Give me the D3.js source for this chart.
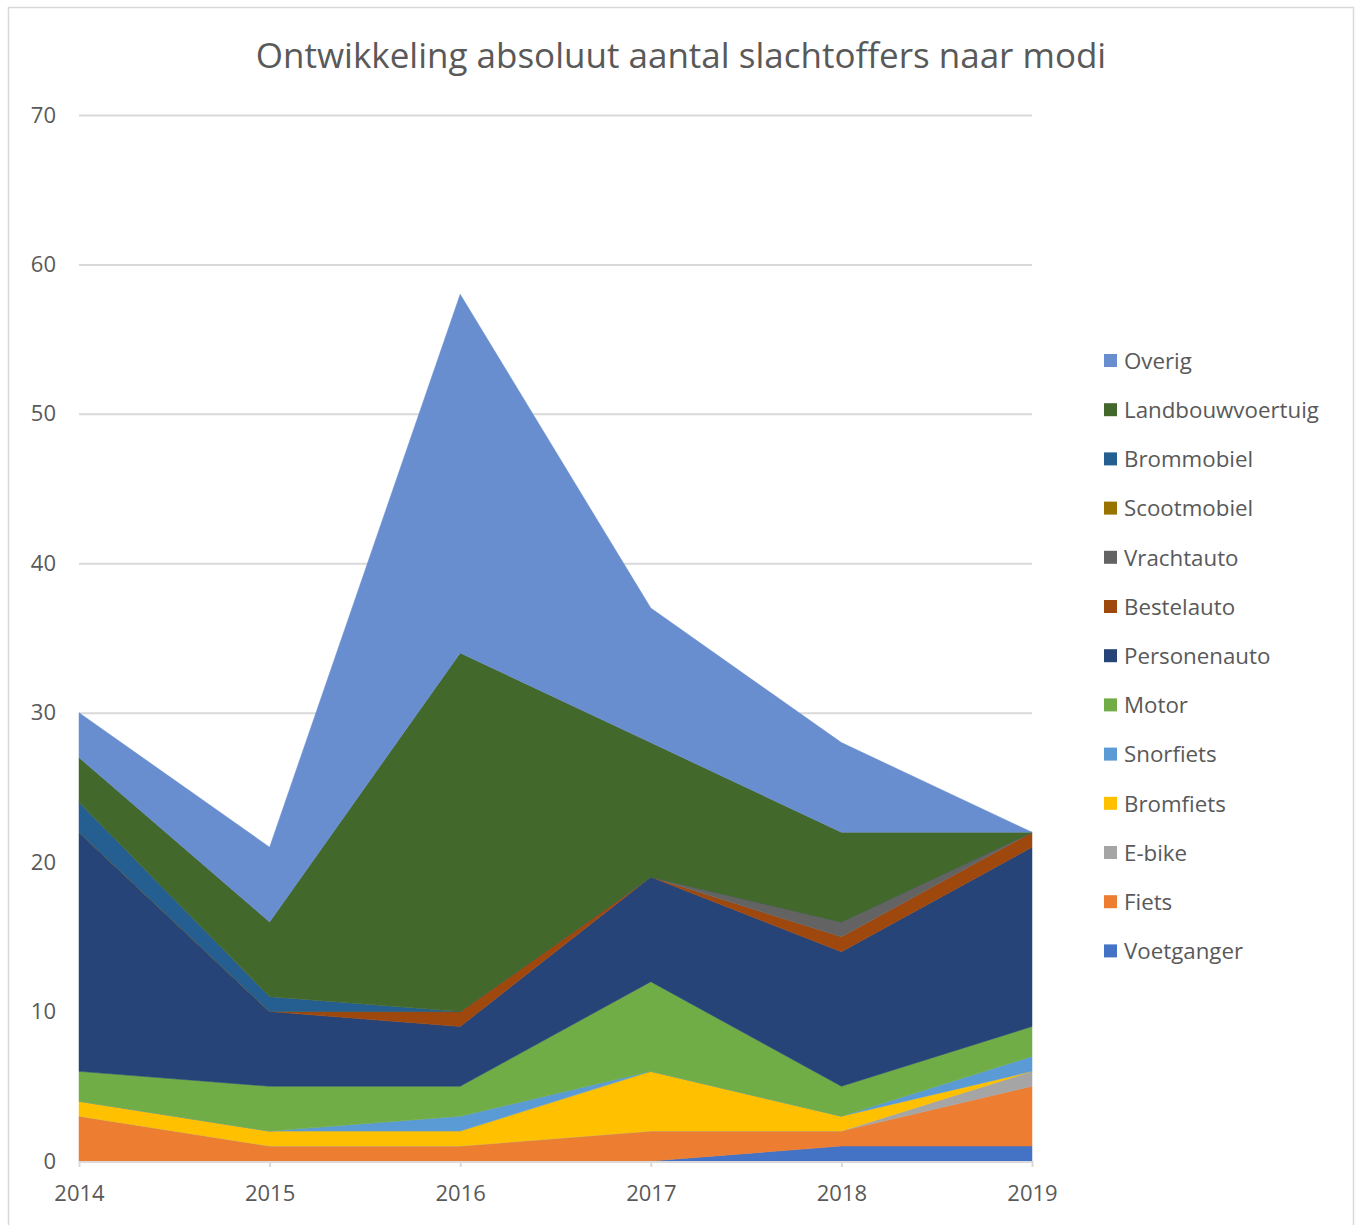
<!DOCTYPE html>
<html>
<head>
<meta charset="utf-8">
<script src="https://cdn.jsdelivr.net/npm/d3@7"></script>
<style>
  html, body { margin: 0; padding: 0; background: #fff; }
  svg { display: block; }
  text { font-family: "Open Sans", "Noto Sans", sans-serif; fill: #595959; }
</style>
</head>
<body>
<svg id="chart" width="1359" height="1225"></svg>
<script>
const years = ["2014", "2015", "2016", "2017", "2018", "2019"];
const seriesNames = ["Voetganger", "Fiets", "E-bike", "Bromfiets", "Snorfiets", "Motor",
  "Personenauto", "Bestelauto", "Vrachtauto", "Scootmobiel", "Brommobiel", "Landbouwvoertuig", "Overig"];
const voetganger      = [0, 0, 0, 0, 1, 1];
const fiets           = [3, 1, 1, 2, 1, 4];
const ebike           = [0, 0, 0, 0, 0, 1];
const bromfiets       = [1, 1, 1, 4, 1, 0];
const snorfiets       = [0, 0, 1, 0, 0, 1];
const motor           = [2, 3, 2, 6, 2, 2];
const personenauto    = [16, 5, 4, 7, 9, 12];
const bestelauto      = [0, 0, 1, 0, 1, 1];
const vrachtauto      = [0, 0, 0, 0, 1, 0];
const scootmobiel     = [0, 0, 0, 0, 0, 0];
const brommobiel      = [2, 1, 0, 0, 0, 0];
const landbouwvoertuig= [3, 5, 24, 9, 6, 0];
const overig          = [3, 5, 24, 9, 6, 0];
const yTicks = [0, 10, 20, 30, 40, 50, 60, 70];
const colors = ["#4472C4", "#ED7D31", "#A5A5A5", "#FFC000", "#5B9BD5", "#70AD47",
  "#264478", "#9E480E", "#636363", "#997300", "#255E91", "#43682B", "#698ED0"];

const seriesValues = [voetganger, fiets, ebike, bromfiets, snorfiets, motor, personenauto,
  bestelauto, vrachtauto, scootmobiel, brommobiel, landbouwvoertuig, overig];

const table = years.map((y, i) => {
  const row = { year: y };
  seriesNames.forEach((n, k) => row[n] = seriesValues[k][i]);
  return row;
});

const svg = d3.select("#chart");

// outer border
svg.append("rect").attr("x", 8.5).attr("y", 7.5).attr("width", 1345).attr("height", 1230)
  .attr("fill", "#fff").attr("stroke", "#D9D9D9").attr("stroke-width", 1.5);

const x = d3.scalePoint().domain(years).range([79, 1032]);
const y = d3.scaleLinear().domain([0, 70]).range([1161, 115]);

// gridlines
svg.append("g").selectAll("line").data(yTicks.filter(t => t > 0)).join("line")
  .attr("x1", 79).attr("x2", 1032)
  .attr("y1", d => y(d) + 0.5).attr("y2", d => y(d) + 0.5)
  .attr("stroke", "#D9D9D9").attr("stroke-width", 2);

const stack = d3.stack().keys(seriesNames);
const stacked = stack(table);

const area = d3.area()
  .x(d => x(d.data.year))
  .y0(d => y(d[0]))
  .y1(d => y(d[1]));

svg.append("g").selectAll("path").data(stacked).join("path")
  .attr("d", area)
  .attr("fill", (d, i) => colors[i])
  .attr("stroke", (d, i) => colors[i])
  .attr("stroke-width", 0.5);

// x axis line & ticks
const xAxis = d3.axisBottom(x).tickSize(6).tickPadding(14);
const gx = svg.append("g").attr("transform", "translate(0,1161)").call(xAxis);
gx.select(".domain").attr("stroke", "#D9D9D9").attr("stroke-width", 2).attr("d", "M79,1V1H1032V1");
gx.selectAll(".tick line").attr("stroke", "#D9D9D9").attr("stroke-width", 2);
gx.selectAll(".tick text").attr("font-size", 22).style("fill", "#595959")
  .attr("font-family", "'Open Sans', sans-serif").attr("dy", "0.9em");

// y axis labels
const yAxis = d3.axisLeft(y).tickValues(yTicks).tickSize(0).tickPadding(23);
const gy = svg.append("g").attr("transform", "translate(79,0)").call(yAxis);
gy.select(".domain").remove();
gy.selectAll(".tick text").attr("font-size", 22).style("fill", "#595959")
  .attr("font-family", "'Open Sans', sans-serif");

// title
svg.append("text").attr("x", 681).attr("y", 68).attr("text-anchor", "middle")
  .attr("font-size", 35).text("Ontwikkeling absoluut aantal slachtoffers naar modi");

// legend (reverse order)
const legendItems = seriesNames.map((n, i) => ({ name: n, color: colors[i] })).reverse();
const lg = svg.append("g").selectAll("g").data(legendItems).join("g")
  .attr("transform", (d, i) => `translate(1104, ${361 + i * 49.2})`);
lg.append("rect").attr("x", 0).attr("y", -7).attr("width", 13).attr("height", 13)
  .attr("fill", d => d.color);
lg.append("text").attr("x", 20).attr("y", 0).attr("dy", "0.35em")
  .attr("font-size", 22.3).text(d => d.name);
</script>
</body>
</html>
